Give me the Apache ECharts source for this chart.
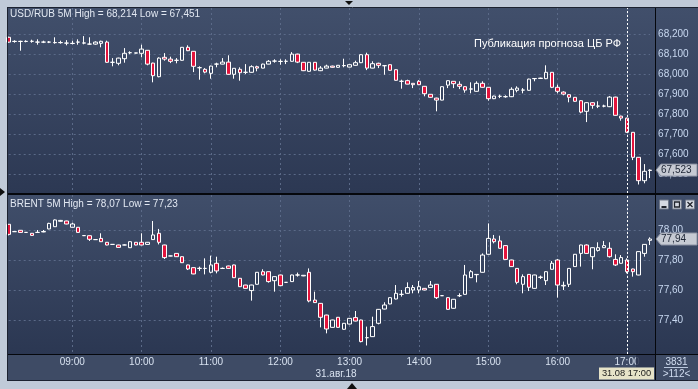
<!DOCTYPE html>
<html><head><meta charset="utf-8">
<script src="https://cdn.jsdelivr.net/npm/echarts@6/dist/echarts.min.js"></script>
<style>html,body{margin:0;padding:0;background:#c0cad8;overflow:hidden}#c{width:698px;height:389px}</style>
</head><body><div id="c"></div>
<script>
const times = ['08:05','08:10','08:15','08:20','08:25','08:30','08:35','08:40','08:45','08:50','08:55',
'09:00','09:05','09:10','09:15','09:20','09:25','09:30','09:35','09:40','09:45','09:50','09:55',
'10:00','10:05','10:10','10:15','10:20','10:25','10:30','10:35','10:40','10:45','10:50','10:55',
'11:00','11:05','11:10','11:15','11:20','11:25','11:30','11:35','11:40','11:45','11:50','11:55',
'12:00','12:05','12:10','12:15','12:20','12:25','12:30','12:35','12:40','12:45','12:50','12:55',
'13:00','13:05','13:10','13:15','13:20','13:25','13:30','13:35','13:40','13:45','13:50','13:55',
'14:00','14:05','14:10','14:15','14:20','14:25','14:30','14:35','14:40','14:45','14:50','14:55',
'15:00','15:05','15:10','15:15','15:20','15:25','15:30','15:35','15:40','15:45','15:50','15:55',
'16:00','16:05','16:10','16:15','16:20','16:25','16:30','16:35','16:40','16:45','16:50','16:55',
'17:00','17:05','17:10','17:15','17:20'];

const usdOpen = [68.187,68.166,68.167,68.166,68.167,68.163,68.163,68.163,68.161,68.160,
68.158,68.156,68.163,68.158,68.153,68.153,68.157,68.163,68.062,68.057,
68.080,68.110,68.108,68.107,68.122,68.058,67.990,68.087,68.078,68.072,
68.072,68.137,68.117,68.035,68.027,68.007,68.053,68.053,68.063,68.002,
68.027,68.012,68.012,68.040,68.033,68.053,68.068,68.066,68.067,68.067,
68.103,68.062,68.017,68.062,68.020,68.033,68.043,68.037,68.045,68.038,
68.047,68.060,68.100,68.033,68.057,68.045,68.050,68.025,67.967,67.970,
67.957,67.967,67.942,67.902,67.883,67.873,67.948,67.967,67.952,67.940,
67.928,67.917,67.957,67.937,67.880,67.892,67.890,67.890,67.922,67.923,
67.922,67.980,67.981,67.980,68.012,67.937,67.913,67.900,67.887,67.870,
67.817,67.860,67.843,67.843,67.840,67.888,67.793,67.783,67.712,67.587,
67.470,67.521];
const usdClose = [68.163,68.167,68.166,68.167,68.167,68.163,68.163,68.163,68.160,68.161,
68.158,68.157,68.163,68.159,68.153,68.163,68.167,68.062,68.062,68.083,
68.107,68.110,68.109,68.128,68.053,67.995,68.083,68.078,68.067,68.072,
68.137,68.120,68.042,68.035,68.013,68.043,68.053,68.063,68.002,68.032,
68.010,68.012,68.040,68.033,68.053,68.067,68.068,68.067,68.067,68.103,
68.063,68.020,68.062,68.023,68.033,68.043,68.037,68.047,68.046,68.050,
68.060,68.100,68.033,68.055,68.047,68.045,68.022,67.972,67.967,67.953,
67.950,67.950,67.905,67.887,67.873,67.940,67.970,67.955,67.942,67.923,
67.929,67.957,67.937,67.880,67.893,67.892,67.890,67.927,67.933,67.923,
67.978,67.981,67.983,68.012,67.937,67.917,67.903,67.887,67.867,67.813,
67.860,67.847,67.843,67.843,67.888,67.797,67.783,67.712,67.587,67.470,
67.517,67.523];
const usdLow = [68.160,68.160,68.120,68.162,68.160,68.150,68.158,68.158,68.155,68.155,
68.147,68.152,68.150,68.152,68.150,68.150,68.137,68.060,68.042,68.047,
68.060,68.103,68.106,68.087,68.047,67.962,67.987,68.070,68.058,68.057,
68.070,68.118,68.013,67.975,68.007,67.980,68.037,68.052,68.000,67.980,
67.970,68.003,68.010,68.017,68.032,68.052,68.060,68.050,68.053,68.065,
68.058,68.018,68.015,68.020,68.018,68.032,68.035,68.035,68.037,68.037,
68.045,68.058,68.023,68.032,68.033,68.000,68.020,67.970,67.930,67.952,
67.933,67.948,67.892,67.885,67.817,67.872,67.933,67.933,67.928,67.910,
67.907,67.915,67.935,67.870,67.878,67.883,67.885,67.888,67.912,67.907,
67.920,67.967,67.980,67.978,67.933,67.907,67.897,67.862,67.865,67.807,
67.763,67.830,67.833,67.837,67.838,67.795,67.770,67.710,67.573,67.451,
67.457,67.483];
const usdHigh = [68.190,68.172,68.170,68.172,68.175,68.177,68.170,68.168,68.187,68.170,
68.173,68.170,68.177,68.193,68.187,68.167,68.170,68.170,68.083,68.085,
68.133,68.117,68.110,68.150,68.123,68.060,68.087,68.108,68.090,68.083,
68.138,68.147,68.118,68.042,68.033,68.045,68.060,68.083,68.097,68.033,
68.037,68.053,68.047,68.045,68.055,68.073,68.077,68.077,68.077,68.113,
68.105,68.063,68.063,68.063,68.043,68.050,68.045,68.048,68.080,68.052,
68.070,68.102,68.110,68.067,68.060,68.047,68.052,68.027,67.975,67.975,
67.958,67.973,67.943,67.903,67.885,67.942,67.972,67.968,67.967,67.942,
67.962,67.967,67.967,67.938,67.895,67.900,67.897,67.937,67.942,67.933,
67.980,67.982,67.985,68.047,68.013,67.950,67.917,67.902,67.888,67.872,
67.862,67.862,67.867,67.850,67.893,67.890,67.795,67.785,67.713,67.588,
67.553,67.527];

const brentOpen = [78.038,77.989,77.998,77.984,77.978,77.984,77.987,78.007,78.022,78.058,
78.060,78.018,78.018,77.962,77.962,77.936,77.944,77.918,77.904,77.900,
77.900,77.882,77.918,77.918,77.904,77.936,77.978,77.900,77.827,77.844,
77.822,77.767,77.749,77.743,77.744,77.718,77.778,77.744,77.760,77.767,
77.678,77.633,77.596,77.638,77.722,77.722,77.662,77.700,77.651,77.656,
77.700,77.694,77.718,77.533,77.511,77.433,77.351,77.418,77.338,77.373,
77.416,77.400,77.282,77.289,77.378,77.473,77.507,77.540,77.571,77.578,
77.600,77.600,77.611,77.616,77.638,77.562,77.549,77.478,77.562,77.571,
77.682,77.702,77.718,77.838,77.940,77.927,77.896,77.800,77.744,77.638,
77.704,77.611,77.684,77.662,77.738,77.800,77.627,77.638,77.756,77.844,
77.900,77.822,77.864,77.882,77.878,77.804,77.778,77.800,77.740,77.700,
77.844,77.931];
const brentClose = [77.971,77.989,77.984,77.984,77.964,77.984,77.990,78.044,78.067,78.064,
78.040,78.040,77.984,77.963,77.938,77.936,77.922,77.900,77.904,77.884,
77.900,77.922,77.900,77.900,77.918,77.967,77.918,77.816,77.827,77.822,
77.782,77.740,77.707,77.745,77.744,77.767,77.727,77.744,77.744,77.682,
77.622,77.611,77.633,77.718,77.700,77.656,77.689,77.629,77.651,77.700,
77.700,77.698,77.527,77.516,77.418,77.340,77.400,77.351,77.378,77.411,
77.393,77.256,77.282,77.356,77.471,77.500,77.549,77.578,77.571,77.616,
77.616,77.622,77.600,77.633,77.549,77.562,77.471,77.538,77.562,77.700,
77.722,77.704,77.833,77.944,77.922,77.878,77.804,77.756,77.651,77.689,
77.618,77.700,77.686,77.722,77.778,77.633,77.631,77.744,77.838,77.900,
77.844,77.882,77.882,77.896,77.822,77.767,77.816,77.722,77.722,77.856,
77.904,77.940];
const brentLow = [77.964,77.987,77.982,77.982,77.962,77.982,77.985,78.005,78.020,78.056,
78.038,78.016,77.982,77.960,77.927,77.934,77.920,77.898,77.902,77.882,
77.898,77.880,77.898,77.898,77.902,77.934,77.904,77.807,77.825,77.820,
77.780,77.733,77.705,77.727,77.704,77.711,77.711,77.740,77.742,77.680,
77.620,77.609,77.529,77.636,77.698,77.649,77.589,77.627,77.649,77.654,
77.689,77.692,77.518,77.514,77.351,77.311,77.349,77.349,77.336,77.371,
77.391,77.251,77.230,77.287,77.371,77.471,77.505,77.538,77.556,77.576,
77.578,77.578,77.598,77.614,77.540,77.560,77.469,77.476,77.553,77.569,
77.680,77.651,77.716,77.836,77.911,77.876,77.802,77.754,77.638,77.578,
77.593,77.609,77.673,77.633,77.736,77.549,77.600,77.620,77.754,77.756,
77.842,77.738,77.856,77.880,77.816,77.760,77.776,77.711,77.689,77.698,
77.822,77.900];
const brentHigh = [78.040,77.991,78.000,77.986,77.980,78.000,78.000,78.048,78.070,78.067,
78.062,78.049,78.020,77.965,77.963,77.938,77.978,77.920,77.906,77.902,
77.904,77.924,77.920,77.978,77.920,78.060,78.007,77.902,77.829,77.846,
77.824,77.769,77.751,77.756,77.811,77.829,77.822,77.750,77.762,77.769,
77.680,77.635,77.635,77.720,77.738,77.724,77.691,77.702,77.653,77.702,
77.716,77.700,77.744,77.589,77.513,77.435,77.402,77.420,77.380,77.413,
77.460,77.402,77.356,77.422,77.473,77.518,77.551,77.633,77.600,77.651,
77.633,77.660,77.613,77.660,77.640,77.564,77.551,77.540,77.578,77.767,
77.733,77.706,77.844,78.044,77.967,77.962,77.898,77.802,77.746,77.704,
77.706,77.702,77.696,77.724,77.793,77.807,77.656,77.746,77.840,77.902,
77.904,77.884,77.918,77.927,77.918,77.838,77.833,77.811,77.742,77.858,
77.906,77.951];

const usdTitle = 'USD/RUB 5M High = 68,214 Low = 67,451';
const brentTitle = 'BRENT 5M High = 78,07 Low = 77,23';
const noteText = 'Публикация прогноза ЦБ РФ';
const dateText = '31.авг.18';
const cursorText = '31.08 17:00';
const cursorTime = '17:00';
const barsCount = '3831';
const visibleText = '>112<';

function ohlc(o, c, l, h) { return o.map((v, i) => [v, c[i], l[i], h[i]]); }
const FONT = '"Liberation Sans", Arial, sans-serif';
const FS = 10;
const hourOnly = (i, v) => v.slice(3) === '00';
const gridLineStyle = {color: '#5b6a88', type: [2, 3], width: 1};
const candleStyle = {color: 'transparent', color0: '#e3143c', borderColor: '#ffffff', borderColor0: '#ffffff', borderColorDoji: '#ffffff', borderWidth: 1};
const fmt = d => v => (Math.abs(v * 10 - Math.round(v * 10)) > 1e-6) ? '' : v.toFixed(d).replace('.', ',');
const cursorIdx = times.indexOf(cursorTime);
const cursorLine = {symbol: ['none', 'none'], silent: true, label: {show: false},
  lineStyle: {color: '#ffffff', type: [2, 2], width: 1}, data: [{xAxis: cursorIdx}]};

const L = 8.7, R = 47.9;
const chart = echarts.init(document.getElementById('c'), null, {renderer: 'canvas', width: 698, height: 389});
const option = {
  animation: false,
  grid: [
    {left: L, right: R, top: 8, height: 185},
    {left: L, right: R, top: 15, height: 178},
    {left: L, right: R, top: 195, height: 159},
    {left: L, right: R, top: 210, height: 137}
  ],
  xAxis: [
    {gridIndex: 0, type: 'category', data: times, boundaryGap: false, axisLine: {show: false}, axisTick: {show: false}, axisLabel: {show: false},
      splitLine: {show: true, interval: hourOnly, lineStyle: gridLineStyle}},
    {gridIndex: 1, type: 'category', data: times, boundaryGap: false, show: false},
    {gridIndex: 2, type: 'category', data: times, boundaryGap: false, axisLine: {show: false}, axisTick: {show: false},
      axisLabel: {show: true, interval: hourOnly, color: '#d8e2f0', margin: 3, fontSize: FS, fontFamily: FONT},
      splitLine: {show: true, interval: hourOnly, lineStyle: gridLineStyle}},
    {gridIndex: 3, type: 'category', data: times, boundaryGap: false, show: false}
  ],
  yAxis: [
    {gridIndex: 0, type: 'value', min: 67.4085, max: 68.3335, show: false, splitLine: {show: false}},
    {gridIndex: 1, type: 'value', position: 'right', min: 67.4085, max: 68.2985, splitNumber: 9,
      axisLine: {show: false}, axisTick: {show: false},
      axisLabel: {margin: 8, color: '#c8d8f0', fontSize: FS, fontFamily: FONT, formatter: fmt(3), showMinLabel: false, showMaxLabel: false},
      splitLine: {show: true, showMinLine: false, showMaxLine: false, lineStyle: gridLineStyle}},
    {gridIndex: 2, type: 'value', min: 77.1733, max: 78.2333, show: false, splitLine: {show: false}},
    {gridIndex: 3, type: 'value', position: 'right', min: 77.22, max: 78.1333, splitNumber: 5,
      axisLine: {show: false}, axisTick: {show: false},
      axisLabel: {margin: 8, color: '#c8d8f0', fontSize: FS, fontFamily: FONT, formatter: v => (Math.abs(v * 5 - Math.round(v * 5)) > 1e-6) ? '' : v.toFixed(2).replace('.', ','), showMinLabel: false, showMaxLabel: false},
      splitLine: {show: true, showMinLine: false, showMaxLine: false, lineStyle: gridLineStyle}}
  ],
  series: [
    {type: 'candlestick', name: 'USD/RUB', xAxisIndex: 0, yAxisIndex: 0, data: ohlc(usdOpen, usdClose, usdLow, usdHigh),
      barWidth: 4, clip: false, itemStyle: candleStyle, markLine: cursorLine},
    {type: 'candlestick', name: 'BRENT', xAxisIndex: 2, yAxisIndex: 2, data: ohlc(brentOpen, brentClose, brentLow, brentHigh),
      barWidth: 4, clip: false, itemStyle: candleStyle, markLine: cursorLine}
  ]
};
chart.setOption(option);

const grad = (a, b) => new echarts.graphic.LinearGradient(0, 0, 0, 1, [{offset: 0, color: a}, {offset: 1, color: b}]);
const line = (x1, y1, x2, y2, c, w, z) => ({type: 'line', shape: {x1, y1, x2, y2}, style: {stroke: c, lineWidth: w}, z: z, silent: true});
const txt = (x, y, t, o) => ({type: 'text', x, y, z: (o && o.z) || 60, silent: true,
  style: Object.assign({text: t, fill: '#dde5f0', fontSize: FS, fontFamily: FONT, align: 'left', verticalAlign: 'middle'}, o || {})});

const lastU = usdClose[usdClose.length - 1];
const lastB = brentClose[brentClose.length - 1];
const yU = chart.convertToPixel({yAxisIndex: 0}, lastU);
const yB = chart.convertToPixel({yAxisIndex: 2}, lastB);
const tag = (y, t) => [
  {type: 'polygon', z: 70, silent: true, shape: {points: [[656, y], [661, y - 6], [697, y - 6], [697, y + 6], [661, y + 6]]},
    style: {fill: '#c6cad3', stroke: '#8c93a3', lineWidth: 1}},
  txt(661, y + 0.5, t, {fill: '#1c2434', z: 71})
];
const btn = (x, kind) => {
  const y = 200, els = [{type: 'rect', z: 70, silent: true, shape: {x: x, y: y, width: 9, height: 9}, style: {fill: '#d6dae2', stroke: '#707888', lineWidth: 1}}];
  if (kind === 'min') els.push(line(x + 2, y + 7, x + 7, y + 7, '#20242c', 2, 71));
  if (kind === 'max') els.push({type: 'rect', z: 71, silent: true, shape: {x: x + 2, y: y + 2, width: 5, height: 5}, style: {fill: 'none', stroke: '#20242c', lineWidth: 1.3}});
  if (kind === 'close') { els.push(line(x + 2, y + 2, x + 7, y + 7, '#20242c', 1.3, 71)); els.push(line(x + 7, y + 2, x + 2, y + 7, '#20242c', 1.3, 71)); }
  return els;
};

const graphics = [
  {type: 'rect', z: -10, silent: true, shape: {x: 8, y: 8, width: 690, height: 186}, style: {fill: grad('#414f6b', '#2c3853')}},
  {type: 'rect', z: -10, silent: true, shape: {x: 8, y: 195, width: 690, height: 160}, style: {fill: grad('#404e6a', '#2b3752')}},
  {type: 'rect', z: -10, silent: true, shape: {x: 8, y: 355, width: 690, height: 25}, style: {fill: '#3e4b65'}},
  line(7.5, 7, 7.5, 381, '#1c2230', 1, 40),
  line(7, 7.5, 698, 7.5, '#1c2230', 1, 40),
  line(8, 194, 698, 194, '#05070c', 2, 40),
  line(8, 354.5, 698, 354.5, '#05070c', 1, 40),
  line(8, 380.5, 698, 380.5, '#1c2230', 1, 40),
  line(655.5, 8, 655.5, 380, '#05070c', 1, 40),
  {type: 'polygon', z: 40, silent: true, shape: {points: [[345, 1], [353, 1], [349, 5]]}, style: {fill: '#101010'}},
  {type: 'polygon', z: 40, silent: true, shape: {points: [[347, 389], [357, 389], [352, 383]]}, style: {fill: '#101010'}},
  {type: 'polygon', z: 40, silent: true, shape: {points: [[0, 188], [5, 192], [0, 196]]}, style: {fill: '#101010'}},
  txt(10, 14.5, usdTitle, {fill: '#e2e8f2'}),
  txt(10, 204.5, brentTitle, {fill: '#e2e8f2'}),
  txt(621, 44, noteText, {fill: '#ffffff', fontSize: 11, align: 'right'}),
  txt(336, 374, dateText, {fill: '#d8e2f0', align: 'center'}),
  {type: 'rect', z: 50, silent: true, shape: {x: 636, y: 355, width: 19, height: 12}, style: {fill: 'rgba(42,52,78,0.85)'}},
  {type: 'rect', z: 55, silent: true, shape: {x: 599, y: 367.5, width: 55, height: 12}, style: {fill: '#e6e3c8'}},
  txt(626.5, 373.8, cursorText, {fill: '#1a1a1a', align: 'center', fontSize: 9.3, z: 56}),
  txt(676.5, 362, barsCount, {fill: '#d0dcf0', align: 'center'}),
  line(664, 367.5, 688, 367.5, '#b8c6dc', 1, 60),
  txt(676.5, 374.5, visibleText, {fill: '#d0dcf0', align: 'center'})
].concat(tag(yU, lastU.toFixed(3).replace('.', ',')), tag(yB, lastB.toFixed(2).replace('.', ',')),
  btn(659.5, 'min'), btn(672.5, 'max'), btn(685.5, 'close'));

chart.setOption({graphic: graphics});
</script></body></html>
